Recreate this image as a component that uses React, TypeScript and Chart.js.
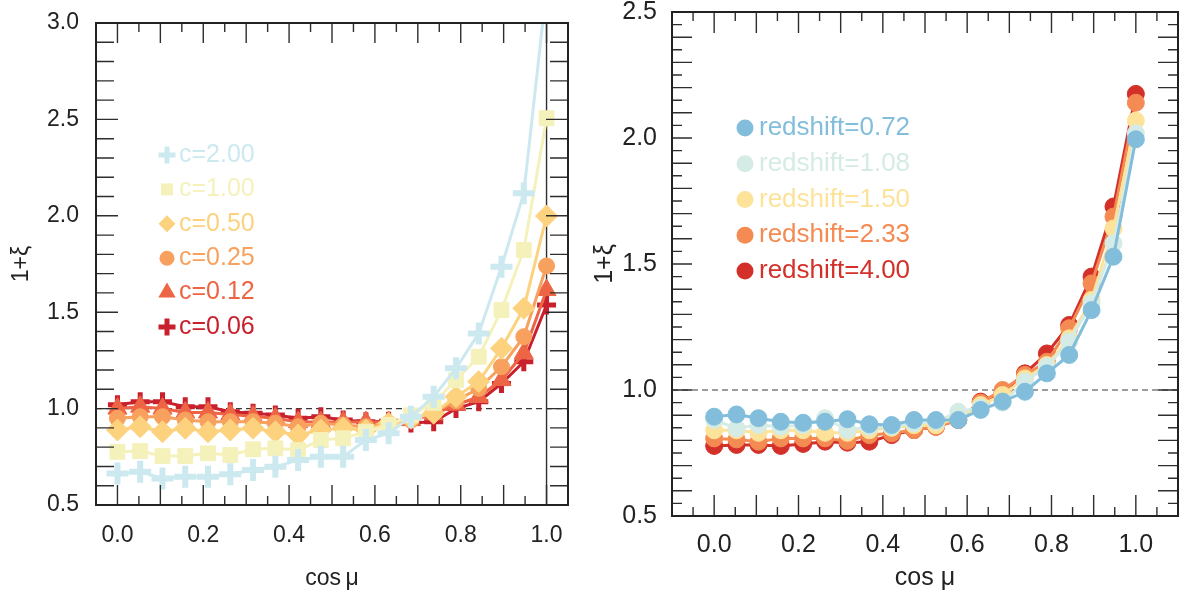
import React, { useEffect, useRef } from 'react';
import { Chart, registerables } from 'chart.js';

Chart.register(...registerables);

const FONT = "'Liberation Sans', Arial, Helvetica, sans-serif";

// ---------- data ----------
const COS_MU = [0.0, 0.053, 0.105, 0.158, 0.211, 0.263, 0.316, 0.368, 0.421, 0.474, 0.526, 0.579, 0.632, 0.684, 0.737, 0.789, 0.842, 0.895, 0.947, 1.0];
const X_TICK_LABELS = [0.0, 0.2, 0.4, 0.6, 0.8, 1.0];
const Y_TICKS_LEFT = [0.5, 1.0, 1.5, 2.0, 2.5, 3.0];
const Y_TICKS_RIGHT = [0.5, 1.0, 1.5, 2.0, 2.5];

// left panel: concentration c
const C_LABELS = ['c=2.00', 'c=1.00', 'c=0.50', 'c=0.25', 'c=0.12', 'c=0.06'];
const C_COLORS = ['#cce9f0', '#f5f1bb', '#fdd27f', '#f8a15e', '#ee6545', '#c9202e'];
const C_STYLES = ['cross', 'rect', 'rectRot', 'circle', 'triangle', 'cross'];
const C_2_00 = [0.664, 0.672, 0.638, 0.646, 0.646, 0.660, 0.681, 0.698, 0.733, 0.750, 0.750, 0.837, 0.872, 0.958, 1.062, 1.209, 1.390, 1.736, 2.117, 3.18];
const C_1_00 = [0.776, 0.780, 0.754, 0.754, 0.768, 0.759, 0.789, 0.794, 0.785, 0.837, 0.846, 0.880, 0.915, 0.965, 1.030, 1.148, 1.269, 1.511, 1.823, 2.506];
const C_0_50 = [0.889, 0.906, 0.880, 0.898, 0.880, 0.889, 0.898, 0.880, 0.863, 0.889, 0.898, 0.889, 0.924, 0.950, 0.976, 1.062, 1.140, 1.313, 1.520, 1.999];
const C_0_25 = [0.950, 0.958, 0.958, 0.941, 0.932, 0.932, 0.932, 0.924, 0.906, 0.924, 0.915, 0.906, 0.924, 0.940, 0.980, 1.040, 1.105, 1.217, 1.373, 1.740];
const C_0_12 = [1.000, 1.010, 1.000, 0.980, 0.980, 0.970, 0.960, 0.950, 0.930, 0.930, 0.930, 0.930, 0.930, 0.940, 0.970, 1.020, 1.060, 1.148, 1.287, 1.615];
const C_0_06 = [1.020, 1.036, 1.036, 1.010, 1.010, 0.984, 0.976, 0.967, 0.950, 0.958, 0.941, 0.932, 0.935, 0.925, 0.932, 1.000, 1.036, 1.130, 1.243, 1.537];
const C_SERIES = [C_2_00, C_1_00, C_0_50, C_0_25, C_0_12, C_0_06];

// right panel: redshift
const Z_LABELS = ['redshift=0.72', 'redshift=1.08', 'redshift=1.50', 'redshift=2.33', 'redshift=4.00'];
const Z_COLORS = ['#82bedb', '#d5ebe5', '#fde29a', '#f48b53', '#d4302a'];
const Z_0_72 = [0.894, 0.903, 0.888, 0.874, 0.870, 0.874, 0.884, 0.864, 0.861, 0.881, 0.881, 0.881, 0.921, 0.954, 0.993, 1.066, 1.139, 1.317, 1.529, 1.995];
const Z_1_08 = [0.881, 0.848, 0.861, 0.854, 0.861, 0.888, 0.841, 0.854, 0.854, 0.868, 0.874, 0.914, 0.930, 0.950, 1.033, 1.093, 1.192, 1.344, 1.582, 2.019];
const Z_1_50 = [0.840, 0.840, 0.830, 0.840, 0.840, 0.830, 0.830, 0.840, 0.850, 0.860, 0.860, 0.890, 0.940, 0.980, 1.046, 1.099, 1.205, 1.357, 1.641, 2.069];
const Z_2_33 = [0.808, 0.804, 0.795, 0.808, 0.808, 0.808, 0.798, 0.821, 0.828, 0.841, 0.854, 0.881, 0.950, 1.000, 1.060, 1.112, 1.245, 1.423, 1.688, 2.140];
const Z_4_00 = [0.778, 0.782, 0.782, 0.778, 0.786, 0.795, 0.791, 0.795, 0.821, 0.841, 0.854, 0.881, 0.954, 0.990, 1.066, 1.145, 1.258, 1.450, 1.728, 2.175];
const Z_SERIES = [Z_0_72, Z_1_08, Z_1_50, Z_2_33, Z_4_00];

const REF_LEVEL = 1.0;

// ---------- helpers ----------
function drawMarker(ctx: CanvasRenderingContext2D, style: string, x: number, y: number, r: number, color: string, lw: number) {
  ctx.save();
  ctx.fillStyle = color;
  ctx.strokeStyle = color;
  ctx.beginPath();
  if (style === 'cross') {
    ctx.lineWidth = lw;
    ctx.moveTo(x - r, y);
    ctx.lineTo(x + r, y);
    ctx.moveTo(x, y - r);
    ctx.lineTo(x, y + r);
    ctx.stroke();
  } else if (style === 'rect') {
    const s = r * Math.SQRT1_2;
    ctx.rect(x - s, y - s, 2 * s, 2 * s);
    ctx.fill();
  } else if (style === 'rectRot') {
    ctx.moveTo(x, y - r);
    ctx.lineTo(x + r, y);
    ctx.lineTo(x, y + r);
    ctx.lineTo(x - r, y);
    ctx.closePath();
    ctx.fill();
  } else if (style === 'triangle') {
    let a = 0;
    ctx.moveTo(x + Math.sin(a) * r, y - Math.cos(a) * r);
    a += (2 * Math.PI) / 3;
    ctx.lineTo(x + Math.sin(a) * r, y - Math.cos(a) * r);
    a += (2 * Math.PI) / 3;
    ctx.lineTo(x + Math.sin(a) * r, y - Math.cos(a) * r);
    ctx.closePath();
    ctx.fill();
  } else {
    ctx.arc(x, y, r, 0, Math.PI * 2);
    ctx.fill();
  }
  ctx.restore();
}

type TickSpec = { step: number; longEvery: number; shortLen: number; longLen: number; majorEvery?: number; majorLen?: number };

function tickValues(min: number, max: number, step: number) {
  const out: { v: number; k: number }[] = [];
  const k0 = Math.ceil(min / step - 1e-6);
  const k1 = Math.floor(max / step + 1e-6);
  for (let k = k0; k <= k1; k++) out.push({ v: k * step, k });
  return out;
}

function framePlugin(xSpec: TickSpec, ySpec: TickSpec, vline: number | null) {
  return {
    id: 'frameTicks',
    beforeDatasetsDraw(chart: any) {
      if (vline === null) return;
      const { ctx, chartArea: a, scales } = chart;
      const px = scales.x.getPixelForValue(vline);
      ctx.save();
      ctx.strokeStyle = '#2e2e2e';
      ctx.lineWidth = 1.4;
      ctx.beginPath();
      ctx.moveTo(px, a.top);
      ctx.lineTo(px, a.bottom);
      ctx.stroke();
      ctx.restore();
    },
    afterDatasetsDraw(chart: any) {
      const { ctx, chartArea: a, scales } = chart;
      const xs = scales.x;
      const ys = scales.y;
      ctx.save();
      ctx.strokeStyle = '#2e2e2e';
      ctx.lineWidth = 1.4;
      ctx.beginPath();
      for (const t of tickValues(xs.min, xs.max, xSpec.step)) {
        const px = xs.getPixelForValue(t.v);
        let len = t.k % xSpec.longEvery === 0 ? xSpec.longLen : xSpec.shortLen;
        if (xSpec.majorEvery && t.k % xSpec.majorEvery === 0) len = xSpec.majorLen as number;
        ctx.moveTo(px, a.bottom);
        ctx.lineTo(px, a.bottom - len);
        ctx.moveTo(px, a.top);
        ctx.lineTo(px, a.top + len);
      }
      for (const t of tickValues(ys.min, ys.max, ySpec.step)) {
        const py = ys.getPixelForValue(t.v);
        let len = t.k % ySpec.longEvery === 0 ? ySpec.longLen : ySpec.shortLen;
        if (ySpec.majorEvery && t.k % ySpec.majorEvery === 0) len = ySpec.majorLen as number;
        ctx.moveTo(a.left, py);
        ctx.lineTo(a.left + len, py);
        ctx.moveTo(a.right, py);
        ctx.lineTo(a.right - len, py);
      }
      ctx.stroke();
      ctx.strokeStyle = '#222';
      ctx.lineWidth = 2;
      ctx.strokeRect(a.left, a.top, a.right - a.left, a.bottom - a.top);
      ctx.restore();
    },
  };
}

type LegendItem = { label: string; color: string; style: string; r: number; lw: number };

function legendPlugin(items: LegendItem[], mx: number, tx: number, y0: number, dy: number, size: number) {
  return {
    id: 'inlineLegend',
    afterDraw(chart: any) {
      const { ctx } = chart;
      ctx.save();
      ctx.font = `${size}px ${FONT}`;
      ctx.textBaseline = 'middle';
      ctx.textAlign = 'left';
      items.forEach((it, i) => {
        const y = y0 + i * dy;
        drawMarker(ctx, it.style, mx, y, it.r, it.color, it.lw);
        ctx.fillStyle = it.color;
        ctx.fillText(it.label, tx, y);
      });
      ctx.restore();
    },
  };
}

function refLineDataset(xmin: number, xmax: number) {
  return {
    label: 'ref',
    data: [
      { x: xmin, y: REF_LEVEL },
      { x: xmax, y: REF_LEVEL },
    ],
    borderColor: '#3a3a3a',
    borderWidth: 1.2,
    borderDash: [6, 4],
    pointRadius: 0,
    showLine: true,
    fill: false,
  };
}

function axisOptions(opts: {
  min: number; max: number; tickVals: number[]; size: number; padding: number;
  title: string; titlePad: any; fitW?: number; fitH?: number;
}) {
  return {
    type: 'linear',
    min: opts.min,
    max: opts.max,
    grid: { display: false },
    border: { display: false },
    afterBuildTicks: (s: any) => {
      s.ticks = opts.tickVals.map((v) => ({ value: v }));
    },
    ticks: {
      padding: opts.padding,
      color: '#222',
      font: { family: FONT, size: opts.size },
      autoSkip: false,
      maxRotation: 0,
      minRotation: 0,
      callback: (v: any) => Number(v).toFixed(1),
    },
    title: {
      display: true,
      text: opts.title,
      color: '#222',
      font: { family: FONT, size: opts.size },
      padding: opts.titlePad,
    },
    afterFit: (s: any) => {
      if (opts.fitW !== undefined) s.width = opts.fitW;
      if (opts.fitH !== undefined) s.height = opts.fitH;
    },
  };
}

// ---------- charts ----------
const LEFT_SIZES = [
  { r: 11, lw: 6 },
  { r: 10.5, lw: 1 },
  { r: 11, lw: 1 },
  { r: 8, lw: 1 },
  { r: 11, lw: 1 },
  { r: 9.5, lw: 5 },
];
const LEFT_LEGEND_SIZES = [
  { r: 8.5, lw: 5 },
  { r: 8.5, lw: 1 },
  { r: 8.5, lw: 1 },
  { r: 7.5, lw: 1 },
  { r: 10, lw: 1 },
  { r: 8.5, lw: 5 },
];

function LeftChart() {
  const ref = useRef<HTMLCanvasElement | null>(null);
  useEffect(() => {
    if (!ref.current) return;
    const datasets: any[] = C_SERIES.map((ser, i) => ({
      label: C_LABELS[i],
      data: COS_MU.map((x, j) => ({ x, y: ser[j] })),
      borderColor: C_COLORS[i],
      backgroundColor: C_COLORS[i],
      pointBackgroundColor: C_COLORS[i],
      pointBorderColor: C_COLORS[i],
      pointStyle: C_STYLES[i],
      pointRadius: LEFT_SIZES[i].r,
      pointBorderWidth: LEFT_SIZES[i].lw,
      borderWidth: 3,
      showLine: true,
      tension: 0,
      fill: false,
      clip: 0,
    }));
    datasets.push(refLineDataset(-0.05, 1.05));
    const items = C_LABELS.map((label, i) => ({
      label,
      color: C_COLORS[i],
      style: C_STYLES[i],
      r: LEFT_LEGEND_SIZES[i].r,
      lw: LEFT_LEGEND_SIZES[i].lw,
    }));
    const chart = new Chart(ref.current, {
      type: 'scatter',
      data: { datasets },
      options: {
        responsive: false,
        animation: false,
        layout: { padding: { left: 0, right: 6, top: 43, bottom: 0 } },
        plugins: { legend: { display: false }, tooltip: { enabled: false } },
        scales: {
          x: axisOptions({
            min: -0.05, max: 1.05, tickVals: X_TICK_LABELS, size: 23, padding: 9,
            title: 'cos\u2009\u03bc', titlePad: { top: 0, bottom: 4 }, fitH: 91,
          }),
          y: axisOptions({
            min: 0.5, max: 3.0, tickVals: Y_TICKS_LEFT, size: 23, padding: 9,
            title: '1+\u03be', titlePad: { top: 8, bottom: 0 }, fitW: 96,
          }),
        } as any,
      },
      plugins: [
        framePlugin(
          { step: 0.05, longEvery: 2, shortLen: 9, longLen: 20 },
          { step: 0.1, longEvery: 1, shortLen: 18, longLen: 18, majorEvery: 5, majorLen: 22 },
          1.0
        ),
        legendPlugin(items, 167, 179, 175, 34.4, 25),
      ],
    } as any);
    return () => chart.destroy();
  }, []);
  return <canvas ref={ref} width={585} height={616} style={{ position: 'absolute', left: 0, top: -20 }} />;
}

function RightChart() {
  const ref = useRef<HTMLCanvasElement | null>(null);
  useEffect(() => {
    if (!ref.current) return;
    const datasets: any[] = Z_SERIES.map((ser, i) => ({
      label: Z_LABELS[i],
      data: COS_MU.map((x, j) => ({ x, y: ser[j] })),
      borderColor: Z_COLORS[i],
      backgroundColor: Z_COLORS[i],
      pointBackgroundColor: Z_COLORS[i],
      pointBorderColor: Z_COLORS[i],
      pointStyle: 'circle',
      pointRadius: 8.5,
      pointBorderWidth: 1,
      borderWidth: 3,
      showLine: true,
      tension: 0,
      fill: false,
    }));
    datasets.push(refLineDataset(-0.1, 1.1));
    const items = Z_LABELS.map((label, i) => ({ label, color: Z_COLORS[i], style: 'circle', r: 8.5, lw: 1 }));
    const chart = new Chart(ref.current, {
      type: 'scatter',
      data: { datasets },
      options: {
        responsive: false,
        animation: false,
        layout: { padding: { left: 0, right: 10, top: 32, bottom: 0 } },
        plugins: { legend: { display: false }, tooltip: { enabled: false } },
        scales: {
          x: axisOptions({
            min: -0.1, max: 1.1, tickVals: X_TICK_LABELS, size: 25, padding: 6,
            title: 'cos \u03bc', titlePad: { top: 0, bottom: 3 }, fitH: 80,
          }),
          y: axisOptions({
            min: 0.5, max: 2.5, tickVals: Y_TICKS_RIGHT, size: 25, padding: 7,
            title: '1+\u03be', titlePad: { top: 5, bottom: 0 }, fitW: 87,
          }),
        } as any,
      },
      plugins: [
        framePlugin(
          { step: 0.05, longEvery: 2, shortLen: 9, longLen: 21 },
          { step: 0.05, longEvery: 2, shortLen: 10, longLen: 20 },
          null
        ),
        legendPlugin(items, 160, 174, 148, 35.75, 26),
      ],
    } as any);
    return () => chart.destroy();
  }, []);
  return <canvas ref={ref} width={603} height={616} style={{ position: 'absolute', left: 585, top: -20 }} />;
}

export default function App() {
  return (
    <div
      style={{
        position: 'fixed',
        left: 0,
        top: 0,
        width: 1188,
        height: 596,
        overflow: 'hidden',
        background: '#ffffff',
      }}
    >
      <LeftChart />
      <RightChart />
    </div>
  );
}
